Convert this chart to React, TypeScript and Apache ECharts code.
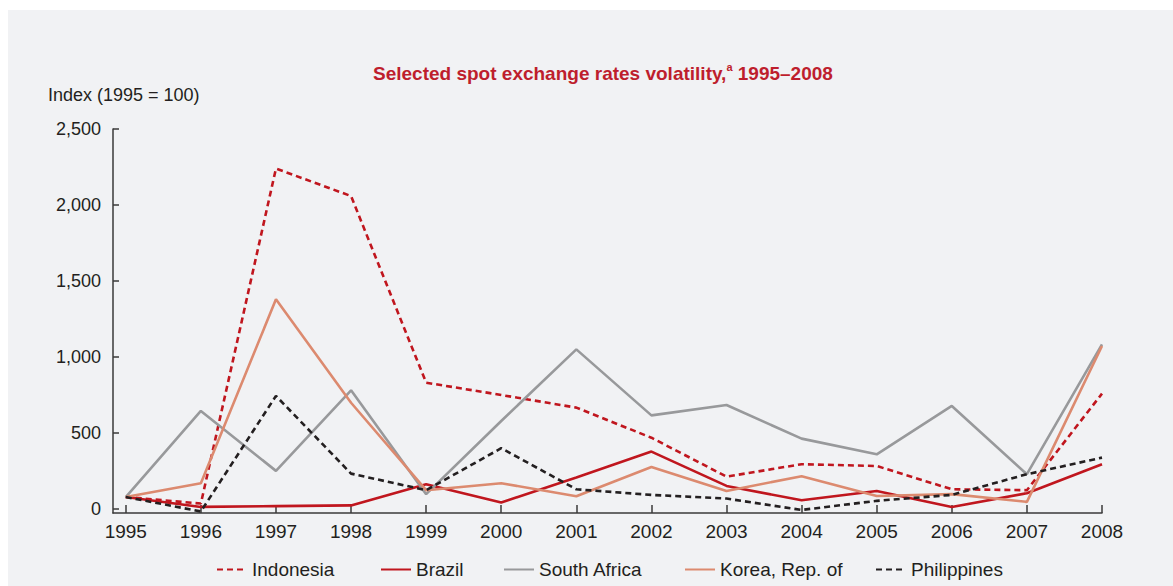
import React, { useEffect, useRef } from "react";
import * as echarts from "echarts";

const years = [1995, 1996, 1997, 1998, 1999, 2000, 2001, 2002, 2003, 2004, 2005, 2006, 2007, 2008];
const indonesia = [80, 37, 2240, 2059, 832, 751, 668, 470, 214, 296, 284, 131, 125, 760];
const brazil = [80, 15, 20, 25, 164, 44, 208, 379, 153, 59, 120, 15, 105, 296];
const southAfrica = [80, 646, 252, 782, 99, 580, 1051, 617, 685, 464, 361, 679, 230, 1084];
const korea = [80, 171, 1380, 700, 125, 171, 85, 278, 120, 217, 87, 99, 48, 1073];
const philippines = [80, -15, 745, 234, 125, 401, 131, 94, 70, -5, 55, 94, 230, 339];
const yTicks = [0, 500, 1000, 1500, 2000, 2500];

const seriesDefs = [
  { name: "Indonesia", data: indonesia, color: "#c0161e", type: [6, 4] as any, legendLeft: 203 },
  { name: "Brazil", data: brazil, color: "#c0161e", type: "solid" as any, legendLeft: 367 },
  { name: "South Africa", data: southAfrica, color: "#98999b", type: "solid" as any, legendLeft: 490 },
  { name: "Korea, Rep. of", data: korea, color: "#dc8a6f", type: "solid" as any, legendLeft: 671 },
  { name: "Philippines", data: philippines, color: "#231f20", type: [6, 4] as any, legendLeft: 862 },
];

const FONT = "'Liberation Sans', Arial, sans-serif";
const TEXT = "#231f20";

export default function App() {
  const ref = useRef<HTMLDivElement>(null);
  useEffect(() => {
    if (!ref.current) return;
    const chart = echarts.init(ref.current, null, { renderer: "svg" });
    const option: any = {
      animation: false,
      backgroundColor: "#f1f2f4",
      textStyle: { fontFamily: FONT, color: TEXT },
      title: {
        left: 360,
        top: 46,
        text: "{t|Selected spot exchange rates volatility,}{s|a}{t| 1995–2008}",
        textStyle: {
          rich: {
            t: { fontFamily: FONT, fontSize: 19, fontWeight: "bold", color: "#be1e2d", lineHeight: 24 },
            s: { fontFamily: FONT, fontSize: 11, fontWeight: "bold", color: "#be1e2d", lineHeight: 24, verticalAlign: "top" },
          },
        },
      },
      graphic: [
        {
          type: "text",
          left: 40,
          top: 76,
          style: { text: "Index (1995 = 100)", fontFamily: FONT, fontSize: 18, fill: TEXT },
        },
      ],
      legend: seriesDefs.map((s) => ({
        data: [s.name],
        left: s.legendLeft,
        top: 545,
        itemWidth: 30,
        itemHeight: 14,
        itemGap: 8,
        itemStyle: { color: "transparent", borderWidth: 0, opacity: 0 },
        textStyle: { fontFamily: FONT, fontSize: 19, color: TEXT },
        selectedMode: false,
      })),
      grid: { left: 105, right: 71, top: 119, bottom: 73, containLabel: false },
      xAxis: {
        type: "value",
        min: 1994.83,
        max: 2008,
        splitLine: { show: false },
        axisLine: { show: true, onZero: false, lineStyle: { color: "#3a3a3a", width: 1.5 } },
        axisTick: { show: true, inside: true, length: 8, customValues: years, lineStyle: { color: "#3a3a3a", width: 1.5 } },
        axisLabel: {
          customValues: years,
          formatter: (v: number) => String(v),
          fontFamily: FONT,
          fontSize: 19,
          color: TEXT,
          margin: 9,
        },
      },
      yAxis: {
        type: "value",
        min: -25,
        max: 2500,
        splitLine: { show: false },
        axisLine: { show: true, lineStyle: { color: "#3a3a3a", width: 1.5 } },
        axisTick: { show: true, inside: true, length: 6, customValues: yTicks, lineStyle: { color: "#3a3a3a", width: 1.5 } },
        axisLabel: {
          customValues: yTicks,
          formatter: (v: number) => v.toLocaleString("en-US"),
          fontFamily: FONT,
          fontSize: 18,
          color: TEXT,
          margin: 12,
        },
      },
      series: seriesDefs.map((s) => ({
        name: s.name,
        type: "line",
        symbol: "none",
        data: s.data.map((v, i) => [years[i], v]),
        color: s.color,
        lineStyle: { color: s.color, width: 2.6, type: s.type },
      })),
    };
    chart.setOption(option);
    return () => chart.dispose();
  }, []);
  return (
    <div
      ref={ref}
      style={{ position: "fixed", left: 8, top: 10, width: 1165, height: 576 }}
    />
  );
}
